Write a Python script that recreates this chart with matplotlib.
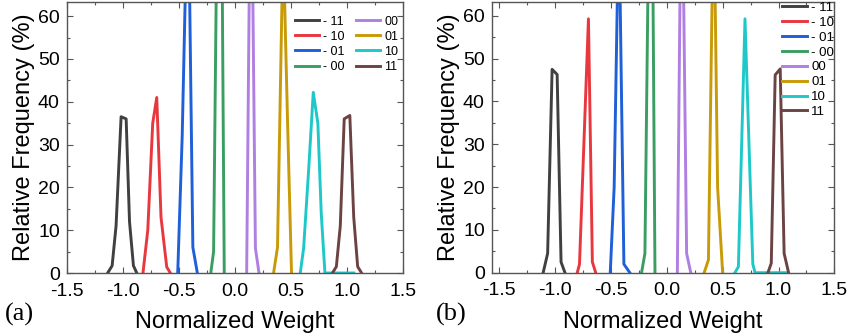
import matplotlib
matplotlib.use("Agg")
import matplotlib.pyplot as plt
from matplotlib.ticker import MultipleLocator

plt.rcParams['font.family'] = ['Liberation Sans', 'DejaVu Sans']
plt.rcParams['axes.unicode_minus'] = False

# weight states and their line colours
states = ['- 11', '- 10', '- 01', '- 00', '00', '01', '10', '11']
colors = ['#404040', '#e8383f', '#1f5fd8', '#3a9e62', '#b07fe2', '#c99a08', '#1fc8c8', '#6c4343']

# (a) weight histograms, one peak per state
a_x = [
    [-1.135, -1.095, -1.06, -1.015, -0.97, -0.94, -0.905, -0.875],
    [-0.82, -0.777, -0.733, -0.697, -0.659, -0.608, -0.576],
    [-0.51, -0.47, -0.43, -0.415, -0.375, -0.335],
    [-0.215, -0.19, -0.155, -0.12, -0.095],
    [0.105, 0.14, 0.148, 0.183, 0.215],
    [0.345, 0.38, 0.43, 0.47, 0.505],
    [0.583, 0.613, 0.66, 0.699, 0.74, 0.77, 0.803, 1.06],
    [0.87, 0.905, 0.94, 0.975, 1.025, 1.06, 1.095, 1.13],
]
a_y = [
    [0, 1.7, 11, 36.5, 36.0, 12, 1.7, 0],
    [0, 10, 35, 41, 13, 1.4, 0],
    [0, 32, 80, 88, 6, 0],
    [0, 5, 95, 95, 0],
    [0, 100, 95, 5.8, 0],
    [0, 6, 78, 35, 0],
    [0, 5.8, 25, 42.2, 35, 14, 0, 0],
    [0, 1.5, 11, 36, 36.8, 13, 1.5, 0],
]

# (b) weight histograms after tuning
b_x = [
    [-1.105, -1.065, -1.025, -0.98, -0.945, -0.91],
    [-0.80, -0.78, -0.70, -0.665, -0.635],
    [-0.505, -0.47, -0.428, -0.383, -0.33],
    [-0.225, -0.195, -0.155, -0.13, -0.105],
    [0.095, 0.13, 0.14, 0.178, 0.215],
    [0.335, 0.373, 0.42, 0.455, 0.50],
    [0.61, 0.641, 0.70, 0.77, 0.79, 1.07],
    [0.905, 0.935, 0.97, 1.015, 1.05, 1.09],
]
b_y = [
    [0, 4.5, 47.5, 46.3, 2.5, 0],
    [0, 2, 59.3, 2.5, 0],
    [0, 20, 85, 2, 0],
    [0, 4.5, 95, 92, 0],
    [0, 95, 90, 4.5, 0],
    [0, 3, 90, 20, 0],
    [0, 1.4, 59.3, 2, 0, 0],
    [0, 2.2, 46.2, 47.6, 4.5, 0],
]

fig = plt.figure(figsize=(8.5, 3.36), dpi=100)
ax_a = fig.add_axes([0.0785, 0.1875, 0.3957, 0.8065])
ax_b = fig.add_axes([0.5785, 0.1884, 0.4032, 0.8065])


def style_axes(ax, xlim):
    ax.set_xlim(*xlim)
    ax.set_ylim(0, 63.3)
    ax.xaxis.set_major_locator(MultipleLocator(0.5))
    ax.xaxis.set_minor_locator(MultipleLocator(0.25))
    ax.yaxis.set_major_locator(MultipleLocator(10))
    ax.yaxis.set_minor_locator(MultipleLocator(5))
    ax.tick_params(which='both', direction='in', top=True, right=True,
                   color='#555555', width=0.8)
    ax.tick_params(which='major', length=4, labelsize=14)
    ax.tick_params(axis='x', which='major', pad=7)
    ax.tick_params(axis='y', which='major', pad=5)
    ax.tick_params(which='minor', length=2.5)
    for sp in ax.spines.values():
        sp.set_color('#555555')
        sp.set_linewidth(1.0)
    ax.set_xlabel('Normalized Weight', fontsize=17, labelpad=8)
    ax.set_ylabel('Relative Frequency (%)', fontsize=17, labelpad=2)


for xs, ys, c, lab in zip(a_x, a_y, colors, states):
    ax_a.plot(xs, ys, color=c, lw=2.1, label=lab)
style_axes(ax_a, (-1.5, 1.5))
ax_a.legend(ncol=2, loc='upper right', bbox_to_anchor=(0.985, 0.95),
            frameon=False, fontsize=9, handlelength=1.95, handletextpad=0.3,
            columnspacing=0.9, labelspacing=0.25, borderpad=0, borderaxespad=0)

for xs, ys, c, lab in zip(b_x, b_y, colors, states):
    ax_b.plot(xs, ys, color=c, lw=2.1, label=lab)
style_axes(ax_b, (-1.565, 1.5))
ax_b.legend(ncol=1, loc='upper right', bbox_to_anchor=(1.0, 1.0),
            frameon=False, fontsize=9.5, handlelength=1.9, handletextpad=0.3,
            labelspacing=0.2, borderpad=0, borderaxespad=0)

fig.text(0.006, 0.045, '(a)', fontsize=19, family='Liberation Serif')
fig.text(0.513, 0.045, '(b)', fontsize=19, family='Liberation Serif')

fig.savefig('out.png', dpi=100)
